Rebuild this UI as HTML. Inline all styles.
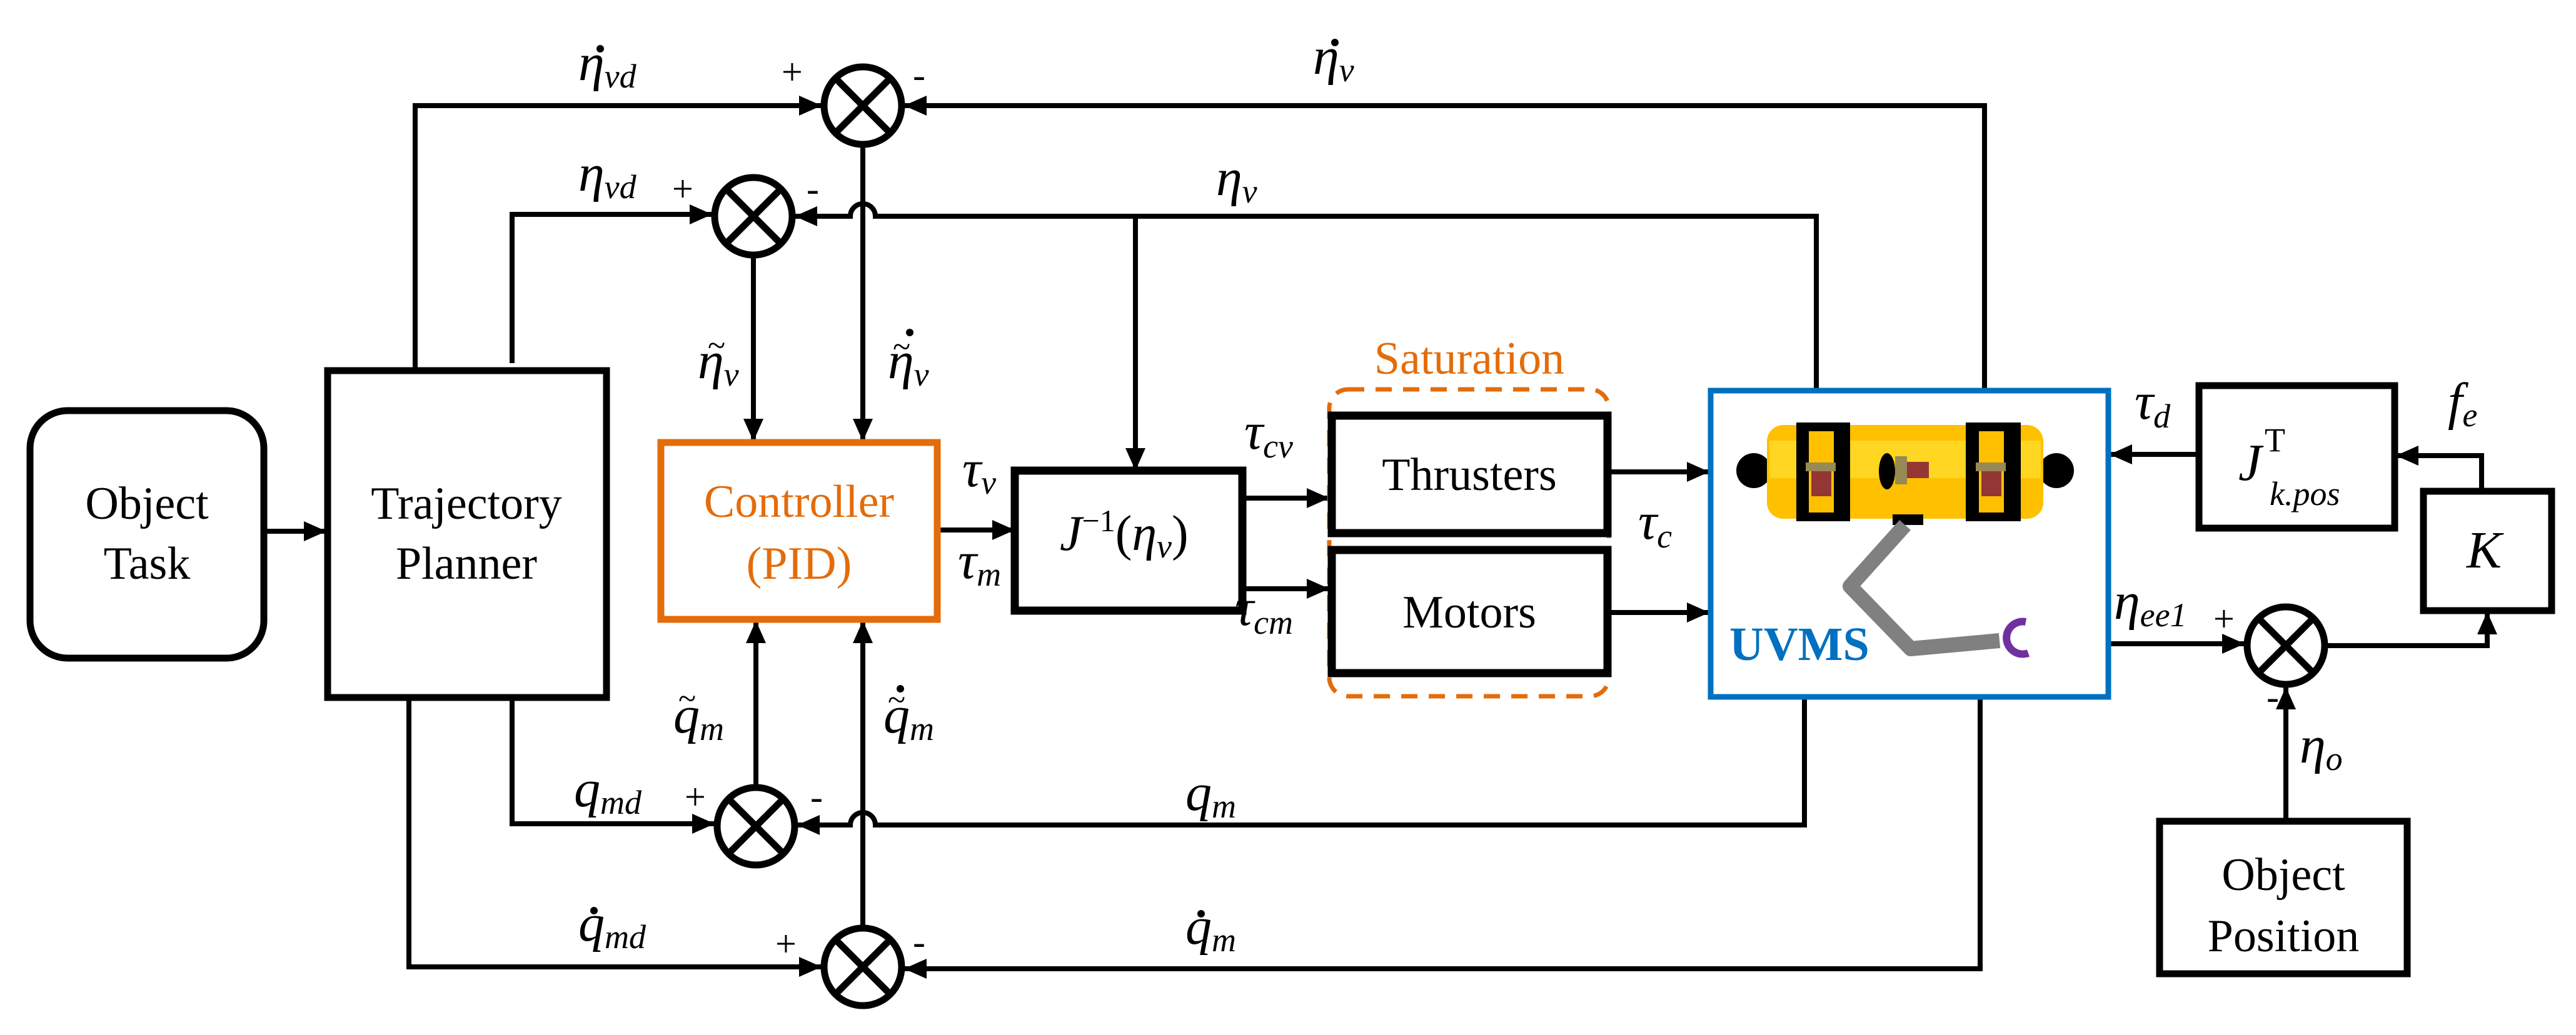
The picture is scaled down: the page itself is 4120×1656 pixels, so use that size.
<!DOCTYPE html>
<html><head><meta charset="utf-8"><style>
html,body{margin:0;padding:0;background:#fff;}
svg{display:block;}
text{font-family:"Liberation Serif","Times New Roman","DejaVu Serif",serif;}
.m{font-style:italic;font-size:84px;}
.s{font-size:54px;font-style:italic;}
.t{font-size:74px;text-anchor:middle;}
</style></head><body>
<svg width="4120" height="1656" viewBox="0 0 4120 1656" xmlns="http://www.w3.org/2000/svg" font-family="Liberation Serif, Times New Roman, DejaVu Serif, serif">
<defs>
<marker id="ah" markerWidth="36" markerHeight="32" refX="36" refY="16" orient="auto" markerUnits="userSpaceOnUse">
<path d="M0,0 L36,16 L0,32 z" fill="#000"/>
</marker>
</defs>
<g fill="none" stroke="#000" stroke-width="8">
<rect x="48" y="657" width="374" height="396" rx="60" stroke-width="11"/>
<line x1="422" y1="850" x2="522" y2="850" marker-end="url(#ah)"/>
<rect x="524" y="593" width="446" height="523" stroke-width="11"/>
<polyline points="664,591 664,169 1314,169" marker-end="url(#ah)"/>
<polyline points="819,581 819,343 1139,343" marker-end="url(#ah)"/>
<polyline points="3174,623 3174,169 1446,169" marker-end="url(#ah)"/>
<path d="M2905,623 L2905,346 L1400,346 A20,20 0 0 0 1360,346 L1271,346" marker-end="url(#ah)"/>
<line x1="1816" y1="346" x2="1816" y2="753" marker-end="url(#ah)"/>
<line x1="1205" y1="412" x2="1205" y2="706" marker-end="url(#ah)"/>
<line x1="1380" y1="235" x2="1380" y2="706" marker-end="url(#ah)"/>
<line x1="1209" y1="1256" x2="1209" y2="993" marker-end="url(#ah)"/>
<line x1="1380" y1="1481" x2="1380" y2="993" marker-end="url(#ah)"/>
<polyline points="819,1117 819,1318 1143,1318" marker-end="url(#ah)"/>
<polyline points="654,1117 654,1547 1314,1547" marker-end="url(#ah)"/>
<path d="M2886,1117 L2886,1320 L1400,1320 A20,20 0 0 0 1360,1320 L1275,1320" marker-end="url(#ah)"/>
<polyline points="3167,1117 3167,1550 1446,1550" marker-end="url(#ah)"/>
<line x1="1499" y1="848" x2="1623" y2="848" marker-end="url(#ah)"/>
<line x1="1987" y1="797" x2="2126" y2="797" marker-end="url(#ah)"/>
<line x1="1987" y1="942" x2="2126" y2="942" marker-end="url(#ah)"/>
<line x1="2573" y1="755" x2="2734" y2="755" marker-end="url(#ah)"/>
<line x1="2573" y1="980" x2="2734" y2="980" marker-end="url(#ah)"/>
<line x1="3517" y1="727" x2="3374" y2="727" marker-end="url(#ah)"/>
<polyline points="3969,784 3969,729 3832,729" marker-end="url(#ah)"/>
<line x1="3372" y1="1030" x2="3590" y2="1030" marker-end="url(#ah)"/>
<polyline points="3722,1033 3978,1033 3978,979" marker-end="url(#ah)"/>
<line x1="3656" y1="1312" x2="3656" y2="1099" marker-end="url(#ah)"/>
<rect x="1057" y="708" width="442" height="283" stroke="#e46c0a" stroke-width="11"/>
<rect x="1623" y="753" width="364" height="224" stroke-width="13"/>
<rect x="2126" y="623" width="447" height="491" rx="30" stroke="#e46c0a" stroke-width="7" stroke-dasharray="26,18"/>
<rect x="2130" y="665" width="441" height="188" stroke-width="13"/>
<rect x="2130" y="880" width="441" height="197" stroke-width="13"/>
<rect x="2736" y="625" width="636" height="490" stroke="#0070c0" stroke-width="9"/>
<rect x="3517" y="617" width="313" height="228" stroke-width="11"/>
<rect x="3876" y="786" width="205" height="191" stroke-width="11"/>
<rect x="3454" y="1314" width="396" height="244" stroke-width="11"/>
</g>
<g fill="#fff" stroke="#000" stroke-width="11">
<g transform="translate(1380,169)"><circle r="62"/><line x1="-44" y1="-44" x2="44" y2="44"/><line x1="-44" y1="44" x2="44" y2="-44"/></g>
<g transform="translate(1205,346)"><circle r="62"/><line x1="-44" y1="-44" x2="44" y2="44"/><line x1="-44" y1="44" x2="44" y2="-44"/></g>
<g transform="translate(1209,1322)"><circle r="62"/><line x1="-44" y1="-44" x2="44" y2="44"/><line x1="-44" y1="44" x2="44" y2="-44"/></g>
<g transform="translate(1380,1547)"><circle r="62"/><line x1="-44" y1="-44" x2="44" y2="44"/><line x1="-44" y1="44" x2="44" y2="-44"/></g>
<g transform="translate(3656,1033)"><circle r="62"/><line x1="-44" y1="-44" x2="44" y2="44"/><line x1="-44" y1="44" x2="44" y2="-44"/></g>
</g>
<g>
<circle cx="2805" cy="753" r="28" fill="#000"/>
<circle cx="3289" cy="753" r="28" fill="#000"/>
<rect x="2826" y="680" width="442" height="150" rx="26" fill="#ffc000"/>
<rect x="2830" y="705" width="434" height="60" fill="#ffe030" opacity="0.7"/>
<rect x="2873" y="676" width="86" height="158" fill="#000"/>
<rect x="2893" y="690" width="40" height="130" fill="#ffc000"/>
<rect x="2888" y="740" width="48" height="14" fill="#978a55"/>
<rect x="2897" y="754" width="32" height="40" fill="#943634"/>
<rect x="3144" y="676" width="88" height="158" fill="#000"/>
<rect x="3165" y="690" width="40" height="130" fill="#ffc000"/>
<rect x="3160" y="740" width="48" height="14" fill="#978a55"/>
<rect x="3169" y="754" width="32" height="40" fill="#943634"/>
<ellipse cx="3018" cy="754" rx="13" ry="29" fill="#000"/>
<rect x="3031" y="730" width="19" height="45" fill="#978a55"/>
<rect x="3050" y="739" width="35" height="26" fill="#943634"/>
<rect x="3027" y="823" width="49" height="17" fill="#000"/>
<polyline points="3047,840 2959,938 3056,1038 3198,1025" fill="none" stroke="#808080" stroke-width="24" stroke-linejoin="round"/>
<path d="M3240,995 A26,26 0 1 0 3244,1045" fill="none" stroke="#7030a0" stroke-width="12"/>
<text x="2766" y="1056" font-size="76" font-weight="bold" fill="#0070c0">UVMS</text>
</g>
<g fill="#000">
<text class="t" x="235" y="830">Object</text>
<text class="t" x="235" y="926">Task</text>
<text class="t" x="746" y="830">Trajectory</text>
<text class="t" x="746" y="926">Planner</text>
<text class="t" x="1278" y="827" fill="#e46c0a">Controller</text>
<text class="t" x="1278" y="926" fill="#e46c0a">(PID)</text>
<text class="t" x="2350" y="784">Thrusters</text>
<text class="t" x="2350" y="1004">Motors</text>
<text class="t" x="2350" y="598" fill="#e46c0a">Saturation</text>
<text class="t" x="3652" y="1424">Object</text>
<text class="t" x="3652" y="1522">Position</text>
</g>
<g fill="#000">
<text class="m" x="925" y="128">η<tspan class="s" dy="12">vd</tspan></text>
<text class="m" x="925" y="305">η<tspan class="s" dy="12">vd</tspan></text>
<text class="m" x="2100" y="118">η<tspan class="s" dy="12">v</tspan></text>
<text class="m" x="1945" y="312">η<tspan class="s" dy="12">v</tspan></text>
<text class="m" x="1116" y="605">η<tspan class="s" dy="12">v</tspan></text>
<text class="m" x="1420" y="605">η<tspan class="s" dy="12">v</tspan></text>
<text class="m" x="1539" y="778">τ<tspan class="s" dy="12">v</tspan></text>
<text class="m" x="1532" y="925">τ<tspan class="s" dy="12">m</tspan></text>
<text class="m" x="1990" y="718">τ<tspan class="s" dy="14">cv</tspan></text>
<text class="m" x="1975" y="1000">τ<tspan class="s" dy="14">cm</tspan></text>
<text class="m" x="2620" y="862">τ<tspan class="s" dy="14">c</tspan></text>
<text x="1695" y="880" font-size="80" font-style="italic">J<tspan font-size="50" font-style="normal" dy="-30">−1</tspan><tspan dy="30" font-style="normal">(</tspan>η<tspan class="s" dy="12">v</tspan><tspan dy="-12" font-style="normal">)</tspan></text>
<text class="m" x="1077" y="1172">q<tspan class="s" dy="12">m</tspan></text>
<text class="m" x="1413" y="1172">q<tspan class="s" dy="12">m</tspan></text>
<text class="m" x="918" y="1290">q<tspan class="s" dy="12">md</tspan></text>
<text class="m" x="1896" y="1296">q<tspan class="s" dy="12">m</tspan></text>
<text class="m" x="925" y="1505">q<tspan class="s" dy="12">md</tspan></text>
<text class="m" x="1896" y="1510">q<tspan class="s" dy="12">m</tspan></text>
<text class="m" x="3414" y="670">τ<tspan class="s" dy="14">d</tspan></text>
<text class="m" x="3915" y="670">f<tspan class="s" dy="12">e</tspan></text>
<text class="m" x="3381" y="990">η<tspan class="s" dy="12">ee1</tspan></text>
<text class="m" x="3678" y="1220">η<tspan class="s" dy="12">o</tspan></text>
<text class="m" x="3945" y="908" font-size="76">K</text>
<text class="m" x="3580" y="768">J</text>
<text x="3622" y="722" font-size="54">T</text>
<text class="s" x="3630" y="808">k.pos</text>
<circle cx="960" cy="78" r="6"/>
<circle cx="2135" cy="68" r="6"/>
<circle cx="1455" cy="532" r="6"/>
<circle cx="950" cy="1457" r="6"/>
<circle cx="1921" cy="1462" r="6"/>
<circle cx="1440" cy="1102" r="6"/>
<g font-size="52" font-style="normal">
<text x="1132" y="570">~</text>
<text x="1428" y="572">~</text>
<text x="1085" y="1135">~</text>
<text x="1420" y="1137">~</text>
</g>
<g font-size="60">
<text x="1250" y="135">+</text><text x="1460" y="140">-</text>
<text x="1075" y="322">+</text><text x="1290" y="322">-</text>
<text x="1095" y="1295">+</text><text x="1296" y="1295">-</text>
<text x="1240" y="1530">+</text><text x="1460" y="1527">-</text>
<text x="3540" y="1010">+</text><text x="3625" y="1135">-</text>
</g>
</g>
</svg>
</body></html>
